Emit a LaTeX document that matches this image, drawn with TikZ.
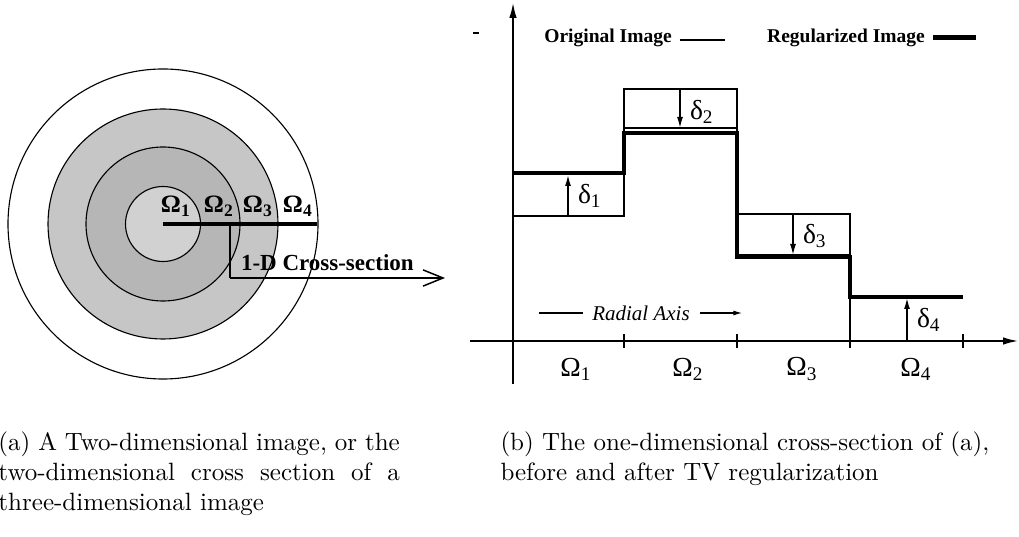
\documentclass[tikz,border=0pt]{standalone}
\usepackage{fontspec}
\newfontfamily\tms{Liberation Serif}
\usetikzlibrary{arrows.meta}
\newcommand{\sbs}[1]{\textsubscript{#1}}

\begin{document}
\begin{tikzpicture}[x=0.4pt,y=-0.4pt,
  ring/.style={line width=0.45pt},
  thinln/.style={line width=0.65pt},
  thickln/.style={line width=1.55pt},
  axis/.style={line width=0.6pt,-{Latex[length=6pt,width=3pt]}},
  dar/.style={line width=0.6pt,-{Latex[length=4.4pt,width=2.4pt]}},
  rlbl/.style={font=\tms\fontsize{11}{13}\selectfont,inner sep=1pt},
  blbl/.style={font=\tms\bfseries\fontsize{10}{12}\selectfont,inner sep=1pt},
  captxt/.style={font=\normalsize,inner sep=0pt,anchor=north west}]
\useasboundingbox (0,0) rectangle (1019,537);

% (a) the concentric regions
\coordinate (c) at (163,224);
\fill[gray!45] (c) circle[radius=115];
\fill[gray!57] (c) circle[radius=77];
\fill[gray!36] (c) circle[radius=37.5];
\foreach \r in {37.5,77,115,155}
  \draw[ring] (c) circle[radius=\r];
\node[blbl] (om1) at (176,206) {Ω\sbs{1}};
\node[blbl] (om2) at (219,206) {Ω\sbs{2}};
\node[blbl] (om3) at (258,206) {Ω\sbs{3}};
\node[blbl] (om4) at (298,206) {Ω\sbs{4}};
\coordinate (rim) at (317,224);
\coordinate (knee) at (230,224);
\coordinate (foot) at (230,278);
\coordinate (tip) at (445,278);
\draw[line width=1.3pt] (c) -- (rim);
\draw[line width=0.9pt] (knee) -- (foot);
\draw[line width=1.1pt,-{Straight Barb[length=8pt,width=6.5pt,line width=0.6pt]}] (foot) -- (tip);
\node[blbl,font=\tms\bfseries\fontsize{9.2}{11}\selectfont,anchor=west] (xsec) at (238,263) {1-D Cross-section};

% (b) axes
\coordinate (ybot) at (513,384);
\coordinate (ytop) at (513,3);
\coordinate (xl) at (470,341);
\coordinate (xr) at (1018,341);
\draw[axis] (ybot) -- (ytop);
\draw[axis] (xl) -- (xr);
\draw[thinln] (473,33) -- (479,33);
\foreach \t in {624,737,850,963}
  \draw[thinln] (\t,334) -- (\t,348);
\foreach \i/\xx in {1/576,2/688,3/802,4/916}
  \node[rlbl] (w\i) at (\xx,369) {Ω\sbs{\i}};

% legend
\node[blbl,font=\tms\bfseries\fontsize{7.8}{9}\selectfont] (lorig) at (608,38) {Original Image};
\draw[line width=0.8pt] ([xshift=2pt,yshift=-1pt]lorig.east) -- ++(45,0);
\node[blbl,font=\tms\bfseries\fontsize{7.8}{9}\selectfont] (lreg) at (846,38) {Regularized Image};
\draw[line width=2pt] ([xshift=2pt]lreg.east) -- ++(43,0);

% difference boxes
\draw[thinln] (513,174) rectangle (624,216);
\draw[thinln] (624,89) rectangle (737,128);
\draw[thinln] (737,214) rectangle (850,255);

% original and regularized profiles
\draw[thinln] (513,216) -- (624,216) -- (624,89) -- (737,89) -- (737,214)
  -- (850,214) -- (850,341) -- (963,341);
\draw[thickln] (513,173) -- (624,173) -- (624,133) -- (737,133) -- (737,257)
  -- (850,257) -- (850,297) -- (963,297);

% shifts
\draw[dar] (568,216) -- (568,175);
\node[rlbl,anchor=west] (d1) at (575,196) {δ\sbs{1}};
\draw[dar] (680,89) -- (680,128);
\node[rlbl,anchor=west] (d2) at (687,112) {δ\sbs{2}};
\draw[dar] (793,214) -- (793,255);
\node[rlbl,anchor=west] (d3) at (800,236) {δ\sbs{3}};
\draw[dar] (907,341) -- (907,298);
\node[rlbl,anchor=west] (d4) at (914,320) {δ\sbs{4}};

\node[font=\tms\itshape\fontsize{8.4}{10}\selectfont,inner sep=0pt] (rad) at (641,313) {Radial Axis};
\draw[line width=0.5pt] ([xshift=-3.6pt]rad.west) -- ++(-44,0);
\draw[line width=0.5pt,-{Latex[length=3.5pt,width=2pt]}] ([xshift=4pt]rad.east) -- ++(42,0);

% captions
\node[captxt,text width=160.5pt,align=justify] (capa) at (-2,431)
  {(a) A Two-dimensional image, or the\linebreak two-dimensional cross section of a\linebreak three-dimensional image};
\node[captxt,text width=210pt,align=left] (capb) at (500,431)
  {(b) The one-dimensional cross-section of (a),\\ before and after TV regularization};
\end{tikzpicture}
\end{document}
